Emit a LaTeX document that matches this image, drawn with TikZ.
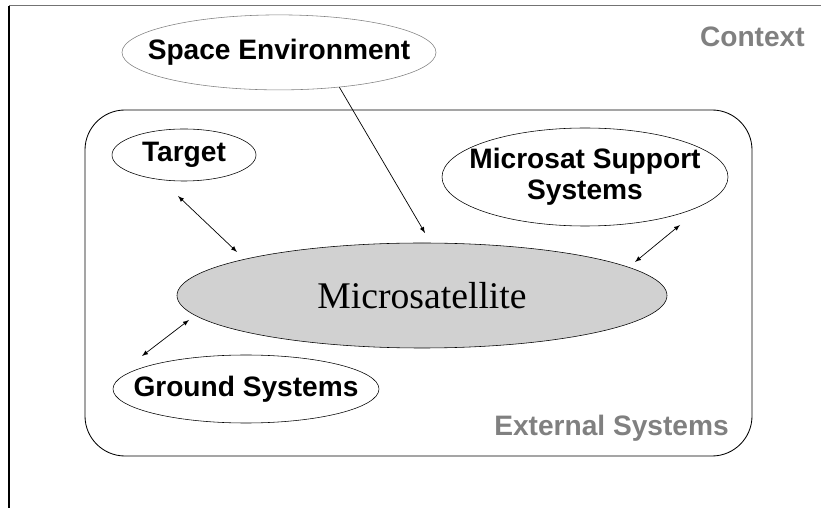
\documentclass[tikz,border=0pt]{standalone}
\usepackage{fontspec}
\setmainfont{Liberation Serif}
\setsansfont{Liberation Sans}
\usetikzlibrary{shapes.geometric,arrows}

\definecolor{framegray}{gray}{0.45}
\definecolor{labelgray}{gray}{0.5}
\definecolor{satfill}{gray}{0.82}

\tikzset{
  extsys/.style={ellipse,draw,inner sep=-3cm,align=center,
    font=\sffamily\bfseries\fontsize{20}{22}\selectfont},
  ctxlabel/.style={text=labelgray,inner sep=0pt,
    font=\sffamily\bfseries\fontsize{20}{22}\selectfont},
  link/.style={latex-latex,line width=0.5pt},
}

\begin{document}
\begin{tikzpicture}
\useasboundingbox (0,0) rectangle (20.525,12.7);
% context frame
\draw[framegray,line width=0.8pt] (0.225,12.56) -- (20.525,12.56);
\draw[line width=0.8pt] (0.225,12.56) -- (0.225,0);
\node[ctxlabel,anchor=east] (ctx) at (20.125,11.775) {Context};
% external systems box
\draw[line width=0.6pt,rounded corners=1cm] (2.125,1.3) rectangle (18.8,9.95);
\node[ctxlabel,anchor=east] (ext) at (18.225,2.0) {External Systems};
% nodes
\node[extsys,draw=gray,minimum width=7.85cm,minimum height=1.875cm] (space) at (6.975,11.39) {Space Environment};
\node[extsys,minimum width=3.6cm,minimum height=1.3cm] (target) at (4.6,8.825) {Target};
\node[extsys,minimum width=7.15cm,minimum height=2.45cm] (support) at (14.625,8.275) {Microsat Support\\Systems};
\node[extsys,minimum width=6.65cm,minimum height=1.7cm] (ground) at (6.15,2.975) {Ground Systems};
\node[ellipse,draw,fill=satfill,inner sep=-3cm,minimum width=12.25cm,minimum height=2.625cm,
  font=\fontsize{26.8}{28}\selectfont] (msat) at (10.55,5.3125) {Microsatellite};
% arrow ends
\coordinate (spaceEnd) at (10.625,6.875);
\coordinate (targetA) at (4.45,7.8);
\coordinate (targetB) at (5.925,6.4);
\coordinate (supportA) at (17.0,7.075);
\coordinate (supportB) at (15.875,6.15);
\coordinate (groundA) at (4.725,4.7);
\coordinate (groundB) at (3.55,3.8);
% links
\draw[-latex,line width=0.5pt] (space.-30) -- (spaceEnd);
\draw[link] (targetA) -- (targetB);
\draw[link] (supportA) -- (supportB);
\draw[link] (groundA) -- (groundB);
\end{tikzpicture}
\end{document}
